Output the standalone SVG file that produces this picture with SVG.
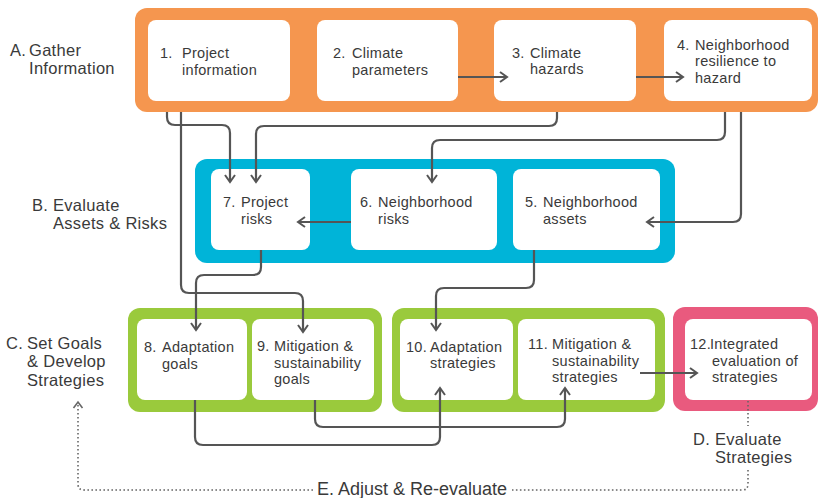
<svg xmlns="http://www.w3.org/2000/svg" width="818" height="498" viewBox="0 0 818 498">
<style>
.bg{fill:#ffffff}
.orange{fill:#F5964F}
.blue{fill:#00B4D8}
.green{fill:#9ACA3C}
.pink{fill:#E95A7E}
.box{fill:#ffffff}
text{font-family:"Liberation Sans",Arial,sans-serif;fill:#3a3a3a}
.t{font-size:14.5px;letter-spacing:0.3px}
.s{font-size:16.5px;letter-spacing:0.3px}
.e{font-size:18px}
.c{fill:none;stroke:#555;stroke-width:2.2;stroke-linejoin:round}
.d{fill:none;stroke:#666;stroke-width:1.6;stroke-dasharray:1.6 2.4}
</style>
<defs>
<marker id="ah" viewBox="0 0 12 12" refX="10" refY="6" markerWidth="12" markerHeight="12" markerUnits="userSpaceOnUse" orient="auto">
<path d="M3,1 L10,6 L3,11" fill="none" stroke="#555" stroke-width="2"/>
</marker>
<marker id="ahd" viewBox="0 0 12 12" refX="10" refY="6" markerWidth="12" markerHeight="12" markerUnits="userSpaceOnUse" orient="auto">
<path d="M4,1.5 L10,6 L4,10.5" fill="none" stroke="#666" stroke-width="1.6"/>
</marker>
</defs>
<rect class="bg" x="0" y="0" width="818" height="498"/>

<g id="groupA">
<rect class="orange" x="135" y="8" width="683" height="104" rx="12"/>
<text class="s"><tspan x="10" y="55.5">A.</tspan><tspan x="29" y="55.5">Gather</tspan><tspan x="29" y="74">Information</tspan></text>
</g>
<g id="groupB">
<rect class="blue" x="195" y="159" width="480" height="104" rx="12"/>
<text class="s"><tspan x="32" y="210.5">B.</tspan><tspan x="53" y="210.5">Evaluate</tspan><tspan x="53" y="229">Assets &amp; Risks</tspan></text>
</g>
<g id="groupC">
<rect class="green" x="128" y="308" width="254" height="104" rx="12"/>
<rect class="green" x="392" y="308" width="273" height="104" rx="12"/>
<text class="s"><tspan x="6" y="348.5">C.</tspan><tspan x="27" y="348.5">Set Goals</tspan><tspan x="27" y="367">&amp; Develop</tspan><tspan x="27" y="385.5">Strategies</tspan></text>
</g>
<g id="groupD">
<rect class="pink" x="673" y="307" width="145" height="104" rx="12"/>
<text class="s"><tspan x="693" y="444.5">D.</tspan><tspan x="715" y="444.5">Evaluate</tspan><tspan x="715" y="463">Strategies</tspan></text>
</g>

<g id="n1"><rect class="box" x="148" y="20" width="142" height="81" rx="8"/>
<text class="t"><tspan x="160" y="58">1.</tspan><tspan x="182" y="58">Project</tspan><tspan x="182" y="74.5">information</tspan></text></g>
<g id="n2"><rect class="box" x="317" y="20" width="141" height="81" rx="8"/>
<text class="t"><tspan x="333" y="58">2.</tspan><tspan x="352" y="58">Climate</tspan><tspan x="352" y="74.5">parameters</tspan></text></g>
<g id="n3"><rect class="box" x="494" y="20" width="142" height="81" rx="8"/>
<text class="t"><tspan x="512" y="57.5">3.</tspan><tspan x="530" y="57.5">Climate</tspan><tspan x="530" y="74">hazards</tspan></text></g>
<g id="n4"><rect class="box" x="664" y="20" width="148" height="81" rx="8"/>
<text class="t"><tspan x="677" y="49.5">4.</tspan><tspan x="695" y="49.5">Neighborhood</tspan><tspan x="695" y="66">resilience to</tspan><tspan x="695" y="82.5">hazard</tspan></text></g>

<g id="n7"><rect class="box" x="211" y="169" width="99" height="81" rx="8"/>
<text class="t"><tspan x="223" y="207">7.</tspan><tspan x="241" y="207">Project</tspan><tspan x="241" y="223.5">risks</tspan></text></g>
<g id="n6"><rect class="box" x="351" y="169" width="146" height="81" rx="8"/>
<text class="t"><tspan x="360" y="207">6.</tspan><tspan x="378" y="207">Neighborhood</tspan><tspan x="378" y="223.5">risks</tspan></text></g>
<g id="n5"><rect class="box" x="513" y="169" width="147" height="81" rx="8"/>
<text class="t"><tspan x="525" y="207">5.</tspan><tspan x="543" y="207">Neighborhood</tspan><tspan x="543" y="223.5">assets</tspan></text></g>

<g id="n8"><rect class="box" x="137" y="319" width="110" height="81" rx="8"/>
<text class="t"><tspan x="144" y="352">8.</tspan><tspan x="162" y="352">Adaptation</tspan><tspan x="162" y="368.5">goals</tspan></text></g>
<g id="n9"><rect class="box" x="252" y="319" width="122" height="81" rx="8"/>
<text class="t"><tspan x="257" y="351">9.</tspan><tspan x="274" y="351">Mitigation &amp;</tspan><tspan x="274" y="367.5">sustainability</tspan><tspan x="274" y="384">goals</tspan></text></g>
<g id="n10"><rect class="box" x="400" y="319" width="113" height="81" rx="8"/>
<text class="t"><tspan x="406" y="351.5">10.</tspan><tspan x="430" y="351.5">Adaptation</tspan><tspan x="430" y="368">strategies</tspan></text></g>
<g id="n11"><rect class="box" x="518" y="319" width="137" height="81" rx="8"/>
<text class="t"><tspan x="528" y="349">11.</tspan><tspan x="552" y="349">Mitigation &amp;</tspan><tspan x="552" y="365.5">sustainability</tspan><tspan x="552" y="382">strategies</tspan></text></g>
<g id="n12"><rect class="box" x="685" y="319" width="127" height="81" rx="8"/>
<text class="t"><tspan x="690" y="349">12.</tspan><tspan x="710" y="349">Integrated</tspan><tspan x="712" y="365.5">evaluation of</tspan><tspan x="712" y="382">strategies</tspan></text></g>

<g id="connectors">
<path class="c" d="M458,77 H507" marker-end="url(#ah)"/>
<path class="c" d="M636,77 H683" marker-end="url(#ah)"/>
<path class="c" d="M167,112 V117 Q167,125 175,125 H222 Q230,125 230,133 V182" marker-end="url(#ah)"/>
<path class="c" d="M181,112 V285 Q181,293 189,293 H295 Q303,293 303,301 V332" marker-end="url(#ah)"/>
<path class="c" d="M557,112 V118 Q557,126 549,126 H264 Q256,126 256,134 V182" marker-end="url(#ah)"/>
<path class="c" d="M725,112 V132 Q725,140 717,140 H440 Q432,140 432,148 V182" marker-end="url(#ah)"/>
<path class="c" d="M741,112 V214 Q741,222 733,222 H647" marker-end="url(#ah)"/>
<path class="c" d="M351,222 H298" marker-end="url(#ah)"/>
<path class="c" d="M261,250 V267 Q261,275 253,275 H204 Q196,275 196,283 V330" marker-end="url(#ah)"/>
<path class="c" d="M534,250 V280 Q534,288 526,288 H444 Q436,288 436,296 V330" marker-end="url(#ah)"/>
<path class="c" d="M195,400 V437 Q195,445 203,445 H432 Q440,445 440,437 V388" marker-end="url(#ah)"/>
<path class="c" d="M315,400 V419 Q315,427 323,427 H557 Q565,427 565,419 V388" marker-end="url(#ah)"/>
<path class="c" d="M640,373 H697" marker-end="url(#ah)"/>
<path class="d" d="M748,401 V426"/>
<path class="d" d="M748,470 V484 Q748,490 742,490 H512"/>
<path class="d" d="M313,490 H84 Q78,490 78,484 V402" marker-end="url(#ahd)"/>
<text class="e" x="317" y="495">E. Adjust &amp; Re-evaluate</text>
</g>
</svg>
